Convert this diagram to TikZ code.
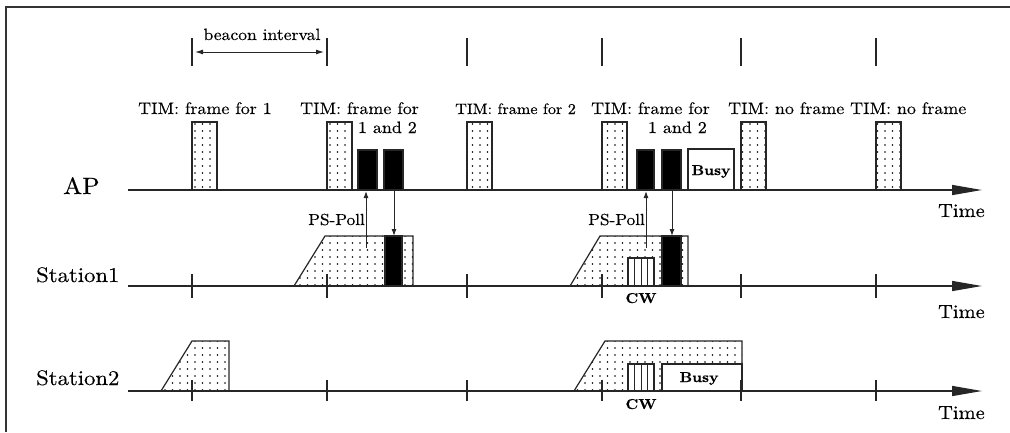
\documentclass[tikz,border=0pt]{standalone}
\usepackage{fontspec}
\setmainfont{lmroman10-regular.otf}[BoldFont=lmroman10-bold.otf, FakeStretch=1.08, FakeBold=0.3]
\usetikzlibrary{arrows.meta,patterns}
\pgfdeclarepatternformonly{sparsedots}{\pgfqpoint{-1pt}{-1pt}}{\pgfqpoint{1pt}{1pt}}{\pgfqpoint{7.5pt}{7pt}}{\pgfpathcircle{\pgfqpoint{0pt}{0pt}}{0.8pt}\pgfusepath{fill}}
\tikzset{
  ln/.style={line width=1.2pt, draw=black!85},
  dotbox/.style={ln, pattern=sparsedots, pattern color=black},
  blk/.style={ln, fill=black},
  wbox/.style={ln, fill=white},
  timeaxis/.style={line width=1.4pt, draw=black!85, -{Triangle[length=30pt,width=10pt]}},
  tickmark/.style={line width=1.3pt, draw=black!85},
  parrow/.style={line width=1pt, draw=black!85, -{Latex[length=7pt,width=5pt]}},
  lbl/.style={inner sep=0pt, font=\fontsize{16.6}{20}\selectfont},
  smlbl/.style={inner sep=0pt, font=\fontsize{15}{18}\selectfont},
  rowlbl/.style={inner sep=0pt, font=\fontsize{21}{24}\selectfont},
  timelbl/.style={inner sep=0pt, font=\fontsize{19}{22}\selectfont},
  polllbl/.style={inner sep=0pt, font=\fontsize{16}{18}\selectfont},
  boldlbl/.style={inner sep=0pt, font=\bfseries\fontsize{14.3}{18}\selectfont},
}
\begin{document}
\begin{tikzpicture}[x=1pt,y=-1pt]
\useasboundingbox (0,0) rectangle (1010,432);
% frame
\draw[line width=2pt, black!80] (6,432) -- (6,7) -- (1010,7);

% beacon ticks at top
\foreach \x in {192,327,467,602,741,876} \draw[tickmark] (\x,38) -- (\x,66);
\coordinate (b1) at (192,52);
\coordinate (b2) at (327,52);
\draw[line width=1pt, black!85, {Latex[length=8pt,width=5pt]}-{Latex[length=8pt,width=5pt]}, shorten <=3pt, shorten >=3pt] (b1) -- (b2);
\node[inner sep=0pt, font=\fontsize{16.3}{20}\selectfont, anchor=base] (beacon) at (262,40) {beacon interval};

% ---------- AP row ----------
\foreach \x in {192,327,467,602,741,876} \draw[dotbox] (\x,122) rectangle (\x+25,190);
\draw[blk] (358,150) rectangle (377,190);
\draw[blk] (384,150) rectangle (403,190);
\draw[blk] (637,150) rectangle (654,190);
\draw[blk] (662,150) rectangle (681,190);
\draw[wbox] (688,149) rectangle (734,190);
\node[boldlbl, anchor=base] (busyap) at (711,175) {Busy};

\node[lbl, anchor=base west] (tim1) at (138,114) {TIM: frame for 1};
\node[lbl, anchor=base west] (tim2) at (300,114) {TIM: frame for};
\node[lbl, anchor=base east] (tim2b) at (417,133) {1 and 2};
\node[smlbl, anchor=base west] (tim3) at (455,114) {TIM: frame for 2};
\node[lbl, anchor=base west] (tim4) at (591,114) {TIM: frame for};
\node[lbl, anchor=base east] (tim4b) at (707,133) {1 and 2};
\node[lbl, anchor=base west] (tim5) at (728,114) {TIM: no frame};
\node[lbl, anchor=base west] (tim6) at (850,114) {TIM: no frame};

\node[inner sep=0pt, font=\fontsize{23.5}{26}\selectfont, anchor=base west] (ap) at (63,194) {AP};
\coordinate (apstart) at (128,190);
\coordinate (apend) at (982,190);
\draw[timeaxis] (apstart) -- (apend);
\node[timelbl, anchor=base east] (time1) at (985,217) {Time};

% ---------- Station1 row ----------
\draw[dotbox] (294,286) -- (325,236) -- (413,236) -- (413,286) -- cycle;
\draw[blk] (385,236) rectangle (402,286);
\draw[dotbox] (570,286) -- (600,236) -- (688,236) -- (688,286) -- cycle;
\draw[blk] (662,236) rectangle (681,286);
\draw[wbox] (628,258) rectangle (654,286);
\foreach \x in {634.5,641,647.5} \draw[line width=1pt, black!85] (\x,258) -- (\x,286);
\node[boldlbl, anchor=base] (cw1) at (641,303) {CW};

\node[rowlbl, anchor=base west] (st1) at (36,282) {Station1};
\coordinate (s1start) at (128,286);
\coordinate (s1end) at (982,286);
\draw[timeaxis] (s1start) -- (s1end);
\foreach \x in {192,327,467,602,741,876} \draw[tickmark] (\x,274) -- (\x,298);
\node[timelbl, anchor=base east] (time2) at (985,318) {Time};

% PS-Poll arrows
\coordinate (pollA) at (366,248);
\coordinate (apA) at (366,191);
\coordinate (apB) at (394,191);
\coordinate (stB) at (394,236);
\draw[parrow] (pollA) -- (apA);
\draw[parrow] (apB) -- (stB);
\node[polllbl, anchor=base west] (poll1) at (308,225) {PS-Poll};
\coordinate (pollC) at (646,248);
\coordinate (apC) at (646,191);
\coordinate (apD) at (672,191);
\coordinate (stD) at (672,236);
\draw[parrow] (pollC) -- (apC);
\draw[parrow] (apD) -- (stD);
\node[polllbl, anchor=base west] (poll2) at (588,225) {PS-Poll};

% ---------- Station2 row ----------
\draw[dotbox] (161,391) -- (192,341) -- (229,341) -- (229,391) -- cycle;
\draw[dotbox] (574,391) -- (605,341) -- (742,341) -- (742,391) -- cycle;
\draw[wbox] (662,364) rectangle (742,391);
\node[boldlbl, anchor=base] (busys2) at (699,382) {Busy};
\draw[wbox] (628,364) rectangle (654,391);
\foreach \x in {634.5,641,647.5} \draw[line width=1pt, black!85] (\x,364) -- (\x,391);
\node[boldlbl, anchor=base] (cw2) at (641,409) {CW};

\node[rowlbl, anchor=base west] (st2) at (36,385) {Station2};
\coordinate (s2start) at (128,391);
\coordinate (s2end) at (982,391);
\draw[timeaxis] (s2start) -- (s2end);
\foreach \x in {192,327,467,602,741,876} \draw[tickmark] (\x,380) -- (\x,401);
\node[timelbl, anchor=base east] (time3) at (985,419) {Time};
\end{tikzpicture}
\end{document}
